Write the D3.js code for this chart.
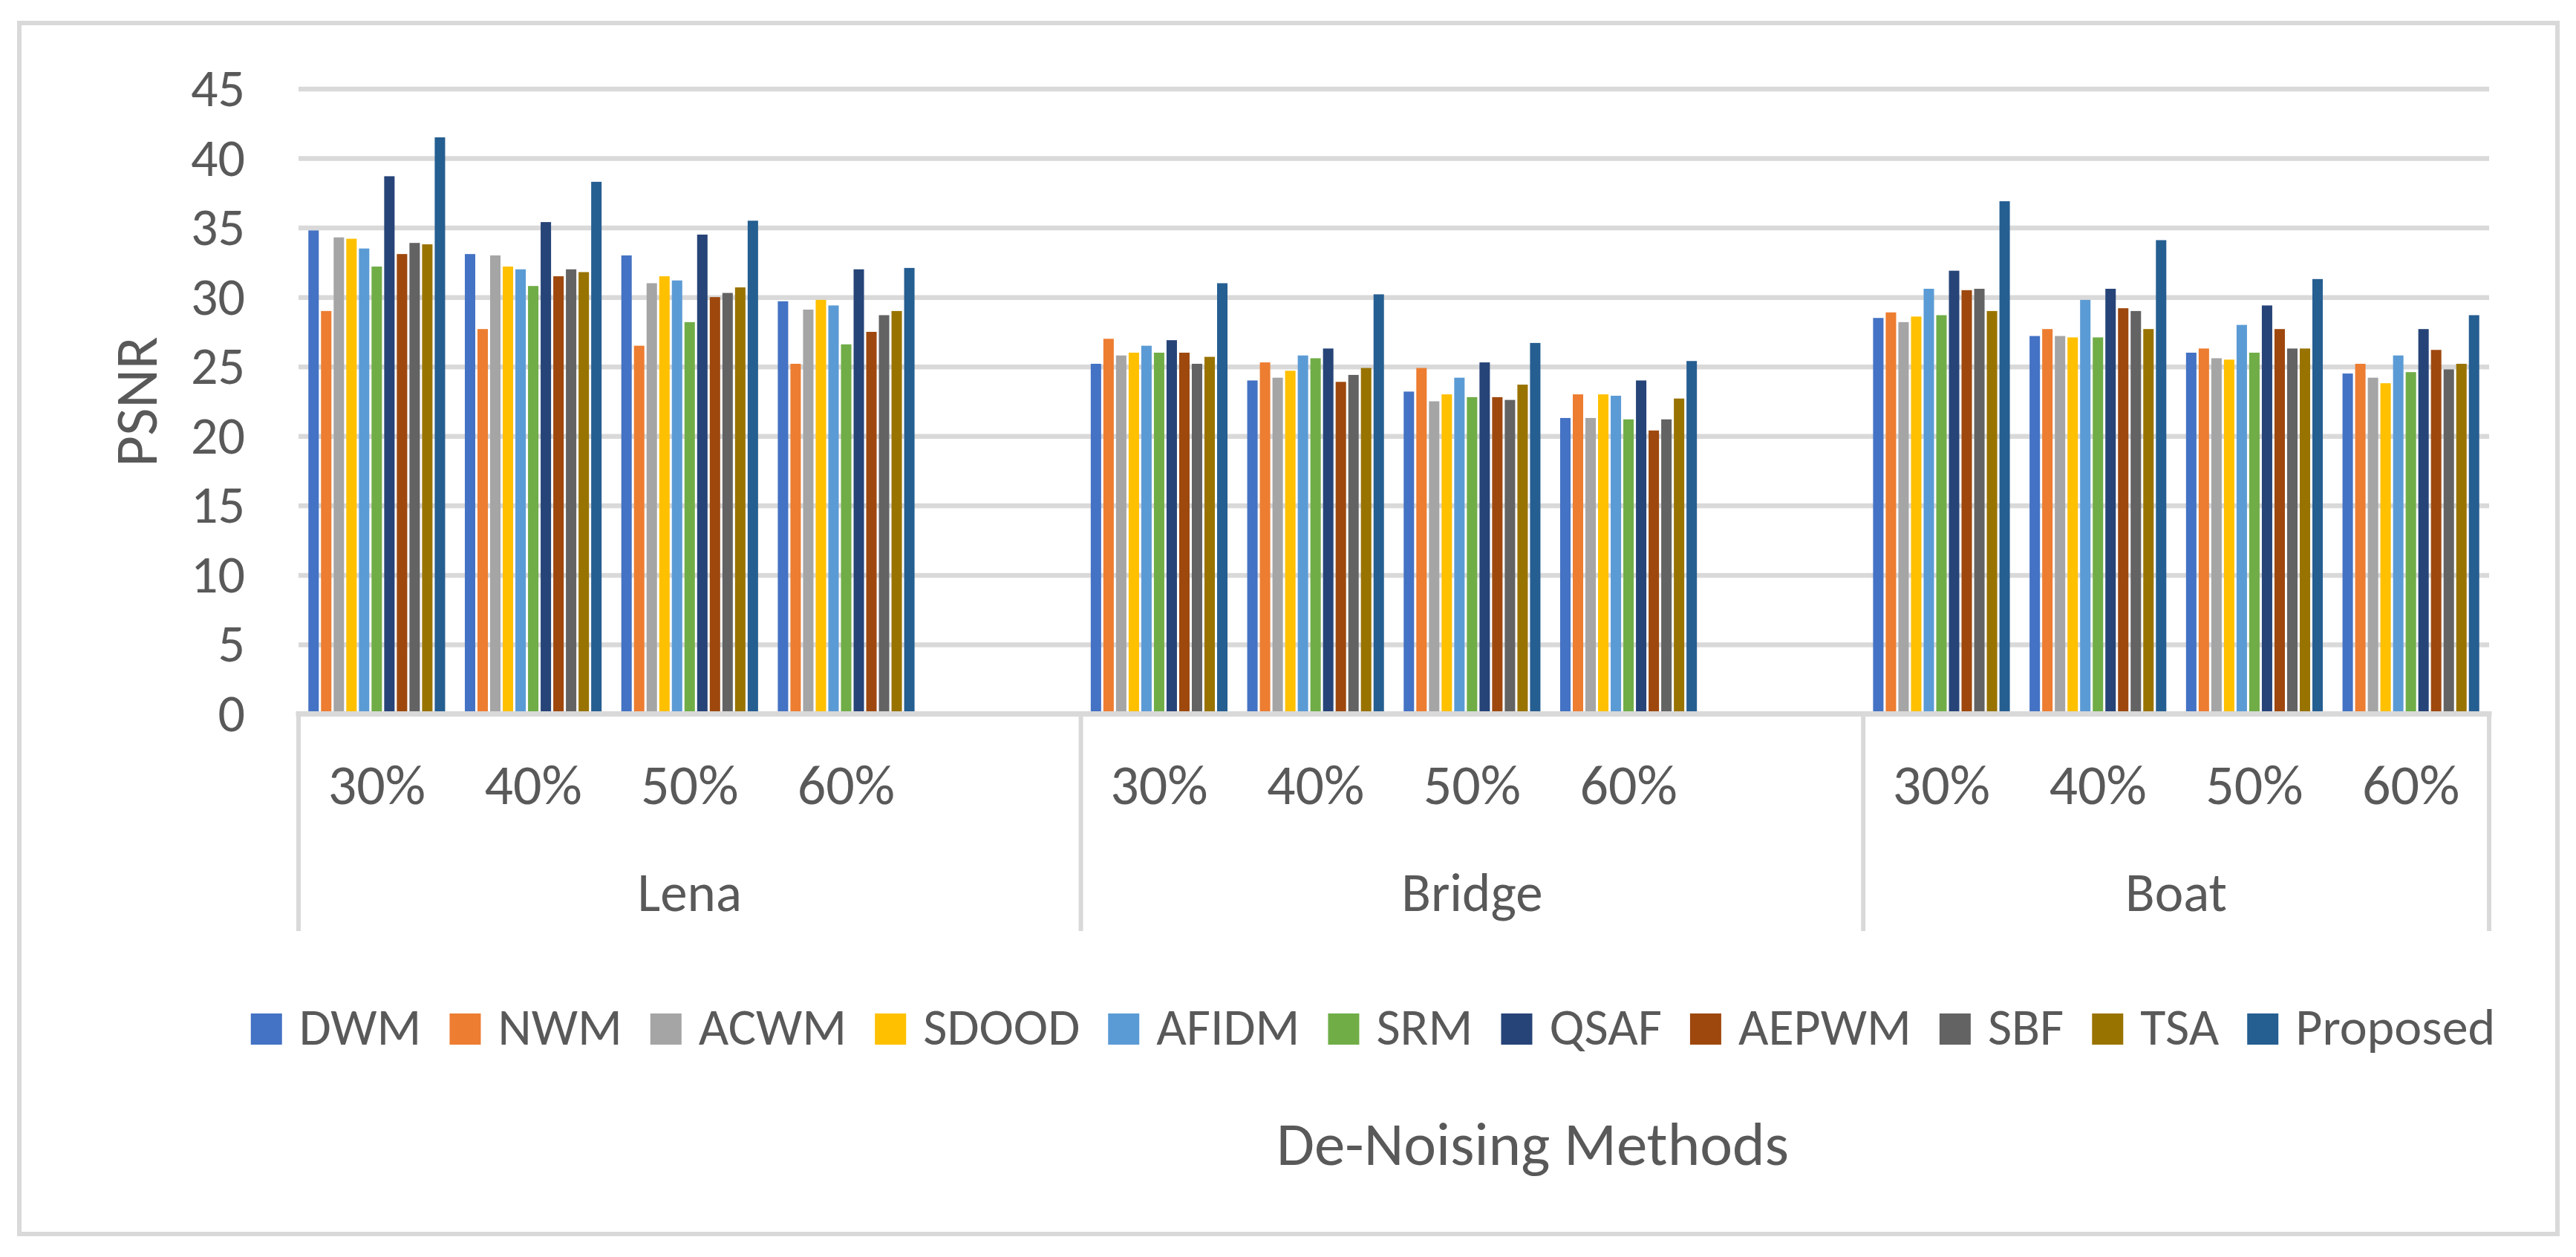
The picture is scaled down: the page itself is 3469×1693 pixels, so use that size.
<!DOCTYPE html>
<html>
<head>
<meta charset="utf-8">
<script src="https://cdnjs.cloudflare.com/ajax/libs/d3/7.8.5/d3.min.js"></script>
<style>
  body { margin: 0; background: #fff; }
  text { font-family: Carlito, Calibri, Lato, sans-serif; fill: #595959; }
</style>
</head>
<body>
<svg id="chart" width="3469" height="1693"></svg>
<script>
// categories
var groups = ["Lena", "Bridge", "Boat"];
var levels = ["30%", "40%", "50%", "60%"];
var methods = ["DWM", "NWM", "ACWM", "SDOOD", "AFIDM", "SRM", "QSAF", "AEPWM", "SBF", "TSA", "Proposed"];
var colors = ["#4472C4", "#ED7D31", "#A5A5A5", "#FFC000", "#5B9BD5", "#70AD47", "#264478", "#9E480E", "#636363", "#997300", "#255E91"];
var yTicks = [0, 5, 10, 15, 20, 25, 30, 35, 40, 45];

// PSNR values, order: Lena 30-60%, Bridge 30-60%, Boat 30-60%
var DWM      = [34.8, 33.1, 33.0, 29.7, 25.2, 24.0, 23.2, 21.3, 28.5, 27.2, 26.0, 24.5];
var NWM      = [29.0, 27.7, 26.5, 25.2, 27.0, 25.3, 24.9, 23.0, 28.9, 27.7, 26.3, 25.2];
var ACWM     = [34.3, 33.0, 31.0, 29.1, 25.8, 24.2, 22.5, 21.3, 28.2, 27.2, 25.6, 24.2];
var SDOOD    = [34.2, 32.2, 31.5, 29.8, 26.0, 24.7, 23.0, 23.0, 28.6, 27.1, 25.5, 23.8];
var AFIDM    = [33.5, 32.0, 31.2, 29.4, 26.5, 25.8, 24.2, 22.9, 30.6, 29.8, 28.0, 25.8];
var SRM      = [32.2, 30.8, 28.2, 26.6, 26.0, 25.6, 22.8, 21.2, 28.7, 27.1, 26.0, 24.6];
var QSAF     = [38.7, 35.4, 34.5, 32.0, 26.9, 26.3, 25.3, 24.0, 31.9, 30.6, 29.4, 27.7];
var AEPWM    = [33.1, 31.5, 30.0, 27.5, 26.0, 23.9, 22.8, 20.4, 30.5, 29.2, 27.7, 26.2];
var SBF      = [33.9, 32.0, 30.3, 28.7, 25.2, 24.4, 22.6, 21.2, 30.6, 29.0, 26.3, 24.8];
var TSA      = [33.8, 31.8, 30.7, 29.0, 25.7, 24.9, 23.7, 22.7, 29.0, 27.7, 26.3, 25.2];
var Proposed = [41.5, 38.3, 35.5, 32.1, 31.0, 30.2, 26.7, 25.4, 36.9, 34.1, 31.3, 28.7];
var series = [DWM, NWM, ACWM, SDOOD, AFIDM, SRM, QSAF, AEPWM, SBF, TSA, Proposed];

function drawChart() {
  var svg = d3.select('#chart');
  var gridColor = '#d9d9d9';

  //Outer chart border
  svg.append('rect')
    .attr('x', 26).attr('y', 31)
    .attr('width', 3418).attr('height', 1631)
    .attr('fill', 'none')
    .attr('stroke', gridColor)
    .attr('stroke-width', 6);

  //Slots: every level of every group, plus an empty slot between groups
  var slots = [];
  groups.forEach(function(g, gi) {
    levels.forEach(function(l, li) {
      slots.push({ id: g + '|' + l, group: g, label: l, idx: gi * levels.length + li });
    });
    if (gi < groups.length - 1) slots.push({ id: g + '|gap', group: g, label: '', idx: -1 });
  });

  var plotLeft = 402, plotRight = 3352, plotTop = 119.5, plotBottom = 961.5;
  var x0 = d3.scaleBand().domain(slots.map(function(d) { return d.id; })).range([plotLeft, plotRight]);
  var x1 = d3.scaleBand().domain(methods).range([0, x0.bandwidth()]).paddingInner(0.176).paddingOuter(0.78);
  var y = d3.scaleLinear().domain([0, 45]).range([plotBottom, plotTop]);

  //Gridlines and y tick labels
  var yAxis = d3.axisLeft(y).tickValues(yTicks).tickSizeInner(-(plotRight - plotLeft)).tickSizeOuter(0).tickPadding(72);
  var gy = svg.append('g').attr('transform', 'translate(' + plotLeft + ',0)').call(yAxis);
  gy.select('.domain').remove();
  gy.selectAll('line').attr('stroke', gridColor).attr('stroke-width', 6.5);
  gy.selectAll('text').attr('font-size', 72).style('fill', '#595959').attr('font-family', null);

  //Bars
  var barData = [];
  slots.forEach(function(s) {
    if (s.idx < 0) return;
    methods.forEach(function(m, mi) {
      barData.push({ slot: s.id, method: m, color: colors[mi], value: series[mi][s.idx] });
    });
  });
  svg.append('g').selectAll('rect').data(barData).enter().append('rect')
    .attr('x', function(d) { return x0(d.slot) + x1(d.method); })
    .attr('y', function(d) { return y(d.value); })
    .attr('width', x1.bandwidth())
    .attr('height', function(d) { return y(0) - y(d.value); })
    .attr('fill', function(d) { return d.color; });

  //Category axis line
  svg.append('line')
    .attr('x1', plotLeft - 3.5).attr('x2', plotRight + 3.5)
    .attr('y1', plotBottom).attr('y2', plotBottom)
    .attr('stroke', gridColor).attr('stroke-width', 7);

  //Level labels
  var xAxis = d3.axisBottom(x0).tickSize(0).tickFormat(function(id) {
    return slots.find(function(s) { return s.id === id; }).label;
  });
  var gx = svg.append('g').attr('transform', 'translate(0,' + plotBottom + ')').call(xAxis);
  gx.select('.domain').remove();
  gx.selectAll('text').attr('font-size', 76).attr('y', 121).attr('dy', 0)
    .style('fill', '#595959').attr('font-family', null);

  //Group dividers and labels
  var groupExtents = groups.map(function(g) {
    var gs = slots.filter(function(s) { return s.group === g; });
    return { name: g, x0: x0(gs[0].id), x1: x0(gs[gs.length - 1].id) + x0.bandwidth() };
  });
  var divX = groupExtents.map(function(d) { return d.x0; }).concat([groupExtents[groupExtents.length - 1].x1]);
  svg.append('g').selectAll('line').data(divX).enter().append('line')
    .attr('x1', function(d) { return d; }).attr('x2', function(d) { return d; })
    .attr('y1', plotBottom).attr('y2', 1254)
    .attr('stroke', gridColor).attr('stroke-width', 6);
  svg.append('g').selectAll('text').data(groupExtents).enter().append('text')
    .attr('x', function(d) { return (d.x0 + d.x1) / 2; })
    .attr('y', 1227)
    .attr('text-anchor', 'middle')
    .attr('font-size', 73)
    .text(function(d) { return d.name; });

  //Axis titles
  svg.append('text')
    .attr('transform', 'translate(211,541) rotate(-90)')
    .attr('text-anchor', 'middle')
    .attr('font-size', 81)
    .text('PSNR');
  svg.append('text')
    .attr('x', 2064).attr('y', 1569)
    .attr('text-anchor', 'middle')
    .attr('font-size', 83)
    .text('De-Noising Methods');

  //Legend, laid out from measured text widths and centred
  var legend = svg.append('g');
  var sw = 42, gapText = 23, gapItem = 38, cursor = 0;
  methods.forEach(function(m, i) {
    var item = legend.append('g').attr('transform', 'translate(' + cursor + ',0)');
    item.append('rect').attr('x', 0).attr('y', 1365).attr('width', sw).attr('height', sw).attr('fill', colors[i]);
    var t = item.append('text').attr('x', sw + gapText).attr('y', 1407).attr('font-size', 70).text(m);
    cursor += sw + gapText + t.node().getComputedTextLength() + gapItem;
  });
  var legendW = cursor - gapItem;
  legend.attr('transform', 'translate(' + (1849 - legendW / 2) + ',0)');
}

drawChart();
</script>
</body>
</html>
